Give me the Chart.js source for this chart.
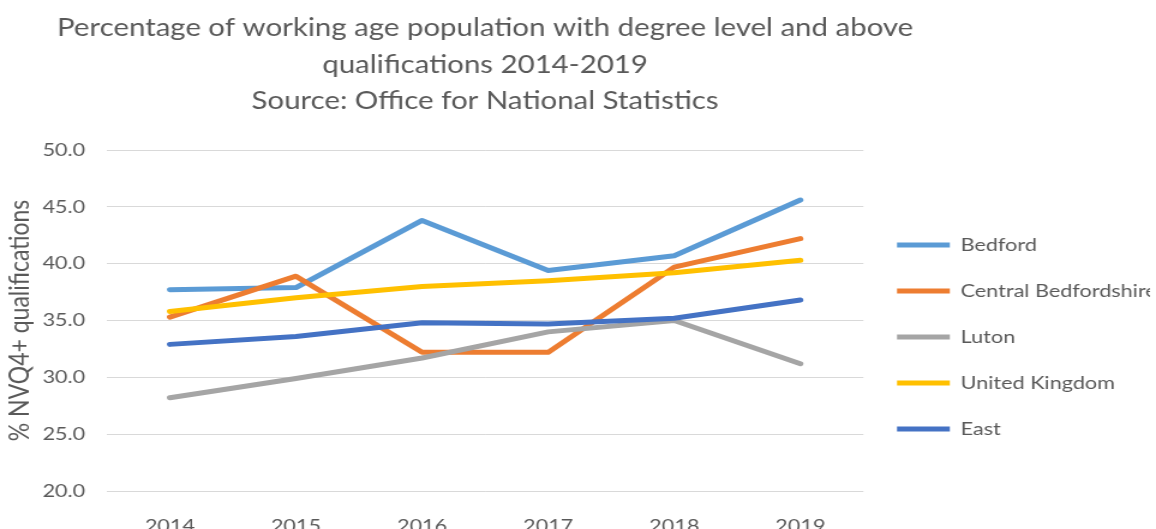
<!DOCTYPE html>
<html>
<head>
<meta charset="utf-8">
<script src="https://cdn.jsdelivr.net/npm/chart.js@4.4.1/dist/chart.umd.min.js"></script>
<style>
  html, body { margin: 0; padding: 0; background: #fff; overflow: hidden; }
  /* le graphique est dessiné plus étroit puis étiré en largeur */
  #wrap { width: 963px; height: 529px; transform: scaleX(1.2004); transform-origin: 0 0; }
</style>
</head>
<body>
<div id="wrap"><canvas id="chartNvq"></canvas></div>
<script>
// Séries NVQ4+ (% population en âge de travailler)
const years       = ['2014', '2015', '2016', '2017', '2018', '2019'];
const bedford     = [37.7, 37.9, 43.8, 39.4, 40.7, 45.6];
const centralBeds = [35.3, 38.9, 32.2, 32.2, 39.7, 42.2];
const luton       = [28.2, 29.9, 31.7, 34.0, 35.0, 31.2];
const uk          = [35.8, 37.0, 38.0, 38.5, 39.2, 40.3];
const east        = [32.9, 33.6, 34.8, 34.7, 35.2, 36.8];

const titleLines = [
    'Percentage of working age population with degree level and above',
    'qualifications 2014-2019',
    'Source: Office for National Statistics'
];

const FONT = 'Lato, "Open Sans", sans-serif';
const GREY = '#595959';

/* Titre centré sur la zone de tracé (il déborde des deux côtés,
   le titre natif le compresserait) */
const centredTitle = {
    id: 'centredTitle',
    afterDraw(chart) {
        const { ctx, chartArea } = chart;
        const cx = (chartArea.left + chartArea.right) / 2;
        ctx.save();
        ctx.fillStyle = GREY;
        ctx.font = '24.5px ' + FONT;
        ctx.textAlign = 'center';
        ctx.textBaseline = 'middle';
        titleLines.forEach((t, i) => ctx.fillText(t, cx, 28.5 + i * 36.5));
        ctx.restore();
    }
};

function serie(label, data, color, order) {
    return {
        label: label,
        data: data,
        borderColor: color,
        backgroundColor: color,
        borderWidth: 5,
        borderCapStyle: 'round',
        borderJoinStyle: 'round',
        pointRadius: 0,
        pointHoverRadius: 0,
        tension: 0,
        fill: false,
        order: order   // la dernière série passe au-dessus
    };
}

new Chart(document.getElementById('chartNvq'), {
    type: 'line',
    data: {
        labels: years,
        datasets: [
            serie('Bedford',              bedford,     '#5B9BD5', 4),
            serie('Central Bedfordshire', centralBeds, '#ED7D31', 3),
            serie('Luton',                luton,       '#A5A5A5', 2),
            serie('United Kingdom',       uk,          '#FFC000', 1),
            serie('East',                 east,        '#4472C4', 0)
        ]
    },
    plugins: [centredTitle],
    options: {
        responsive: true,
        maintainAspectRatio: false,
        animation: false,
        layout: { padding: { left: 3, top: 150, right: 5, bottom: 0 } },
        plugins: {
            title: { display: false },
            legend: {
                position: 'right',
                fullSize: false,
                reverse: true,
                align: 'start',
                title: { display: true, text: ' ', font: { size: 10 }, padding: 23 },
                labels: {
                    usePointStyle: true,
                    pointStyle: 'line',
                    pointStyleWidth: 44,
                    boxHeight: 18,
                    color: GREY,
                    font: { family: FONT, size: 18 },
                    padding: 28
                }
            },
            tooltip: { enabled: false }
        },
        scales: {
            x: {
                offset: true,
                grid: { display: false },
                border: { display: false },
                ticks: { color: GREY, font: { family: FONT, size: 18 }, padding: 16, maxRotation: 0 },
                afterFit: s => { s.height = 38; }
            },
            y: {
                min: 20,
                max: 50,
                grid: { color: '#D9D9D9', lineWidth: 1, drawTicks: false },
                border: { display: false },
                ticks: {
                    stepSize: 5,
                    color: GREY,
                    padding: 18,
                    font: { family: FONT, size: 18 },
                    callback: v => v.toFixed(1)
                },
                title: {
                    display: true,
                    text: '% NVQ4+ qualifications',
                    color: GREY,
                    font: { family: FONT, size: 23 },
                    padding: { top: 0, bottom: 6 }
                },
                afterFit: s => { s.width = 86; }
            }
        }
    }
});
</script>
</body>
</html>
